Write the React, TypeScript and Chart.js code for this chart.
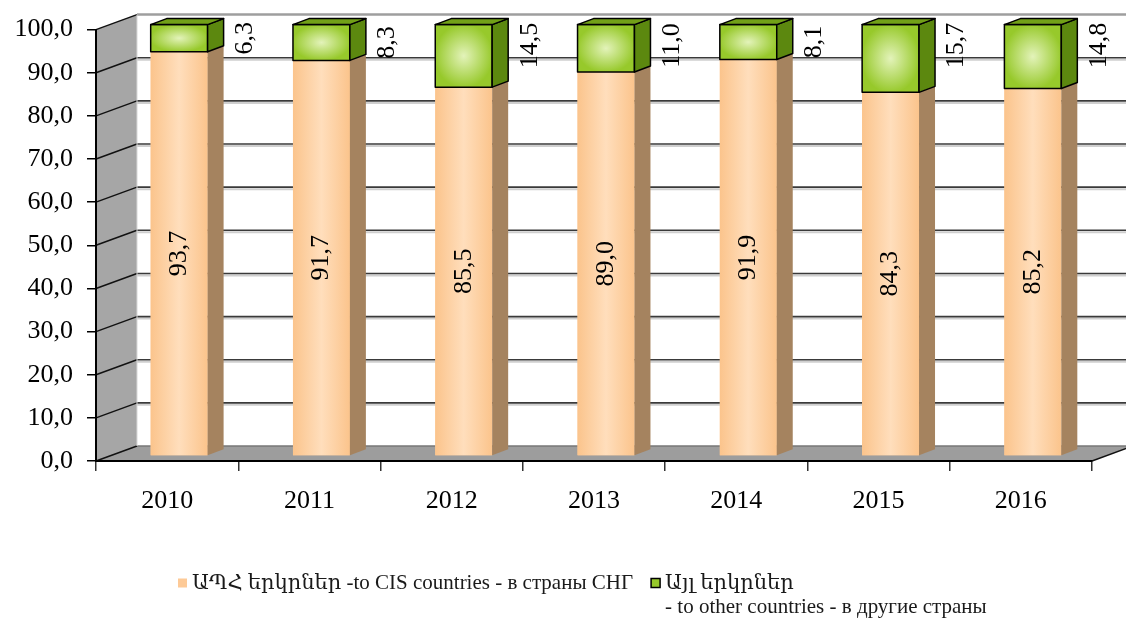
import React, { useEffect, useRef } from 'react';
import { Chart, registerables } from 'chart.js';

Chart.register(...registerables);

// ---- data ----
const categories = ['2010', '2011', '2012', '2013', '2014', '2015', '2016'];
const cisShare = [93.7, 91.7, 85.5, 89.0, 91.9, 84.3, 85.2];
const otherShare = [6.3, 8.3, 14.5, 11.0, 8.1, 15.7, 14.8];
const yMin = 0;
const yMax = 100;
const yStep = 10;
const cisLegend = ['ԱՊՀ երկրներ -to CIS countries - в страны СНГ'];
const otherLegend = ['Այլ երկրներ', '- to other countries - в другие страны'];

// ---- style ----
const SERIF = "'Liberation Serif', 'Times New Roman', 'DejaVu Serif', serif";
const fmt = (v: number) => v.toFixed(1).replace('.', ',');

const WALL_DX = 41;
const WALL_DY = -15;
const BAR_SHIFT_X = 12;
const BAR_SHIFT_Y = -5;
const BAR_DX = 16;
const BAR_DY = -6;

const COLORS = {
  cis: '#FDCA97',
  cisEdge: '#FBC48C',
  cisLight: '#FFDEBC',
  cisSide: '#A5835F',
  other: '#97C92B',
  otherLight: '#E3F3BA',
  otherSide: '#5C880F',
  otherTop: '#72A018',
  wall: '#A6A6A6',
  floor: '#9D9D9D',
};

function line(ctx: CanvasRenderingContext2D, x1: number, y1: number, x2: number, y2: number) {
  ctx.beginPath();
  ctx.moveTo(x1, y1);
  ctx.lineTo(x2, y2);
  ctx.stroke();
}

const scenePlugin = {
  id: 'scene3d',
  beforeDraw(chart: any) {
    const { ctx, chartArea: a, scales } = chart;
    const y = scales.y;
    const y0 = y.getPixelForValue(yMin);
    const yT = y.getPixelForValue(yMax);
    const L = a.left;
    const R = a.right;
    ctx.save();
    // left side wall
    ctx.fillStyle = COLORS.wall;
    ctx.beginPath();
    ctx.moveTo(L, yT);
    ctx.lineTo(L + WALL_DX, yT + WALL_DY);
    ctx.lineTo(L + WALL_DX, y0 + WALL_DY);
    ctx.lineTo(L, y0);
    ctx.closePath();
    ctx.fill();
    // floor
    ctx.fillStyle = COLORS.floor;
    ctx.beginPath();
    ctx.moveTo(L, y0);
    ctx.lineTo(L + WALL_DX, y0 + WALL_DY);
    ctx.lineTo(R + WALL_DX, y0 + WALL_DY);
    ctx.lineTo(R, y0);
    ctx.closePath();
    ctx.fill();
    // back wall gridlines + side wall diagonals
    y.ticks.forEach((t: any) => {
      const pf = y.getPixelForValue(t.value);
      const pb = pf + WALL_DY;
      const isTop = t.value === yMax;
      const isBottom = t.value === yMin;
      if (!isTop && !isBottom) {
        ctx.strokeStyle = '#CFCFCF';
        ctx.lineWidth = 2;
        line(ctx, L + WALL_DX, pb + 2, R + WALL_DX, pb + 2);
      }
      ctx.strokeStyle = isTop ? '#9E9E9E' : isBottom ? '#777777' : '#3A3A3A';
      ctx.lineWidth = isTop ? 2.5 : 1.6;
      line(ctx, L + WALL_DX, pb, R + WALL_DX, pb);
      ctx.strokeStyle = '#111111';
      ctx.lineWidth = 1.5;
      line(ctx, L, pf, L + WALL_DX, pb);
    });
    // back wall left edge
    ctx.strokeStyle = '#D8D8D8';
    ctx.lineWidth = 1;
    line(ctx, L + WALL_DX, yT + WALL_DY, L + WALL_DX, y0 + WALL_DY);
    // floor right edge
    ctx.strokeStyle = '#111111';
    ctx.lineWidth = 1.5;
    line(ctx, R, y0, R + WALL_DX, y0 + WALL_DY);
    ctx.restore();
  },
  beforeDatasetsDraw(chart: any) {
    chart.ctx.save();
    chart.ctx.translate(BAR_SHIFT_X, BAR_SHIFT_Y);
  },
  afterDatasetsDraw(chart: any) {
    const { ctx } = chart;
    const cisMeta = chart.getDatasetMeta(0);
    const otherMeta = chart.getDatasetMeta(1);

    // CIS bars: gradient front + side face
    cisMeta.data.forEach((el: any) => {
      const p = el.getProps(['x', 'y', 'base', 'width'], true);
      const x0 = p.x - p.width / 2;
      const x1 = p.x + p.width / 2;
      const g = ctx.createLinearGradient(x0, 0, x1, 0);
      g.addColorStop(0, COLORS.cisEdge);
      g.addColorStop(0.5, COLORS.cisLight);
      g.addColorStop(1, COLORS.cisEdge);
      ctx.fillStyle = g;
      ctx.fillRect(x0, p.y, p.width, p.base - p.y);
      ctx.fillStyle = COLORS.cisSide;
      ctx.beginPath();
      ctx.moveTo(x1, p.y);
      ctx.lineTo(x1 + BAR_DX, p.y + BAR_DY);
      ctx.lineTo(x1 + BAR_DX, p.base + BAR_DY);
      ctx.lineTo(x1, p.base);
      ctx.closePath();
      ctx.fill();
    });

    // Other bars: gradient front, side, top (outlined)
    otherMeta.data.forEach((el: any) => {
      const p = el.getProps(['x', 'y', 'base', 'width'], true);
      const x0 = p.x - p.width / 2;
      const x1 = p.x + p.width / 2;
      const h = p.base - p.y;
      ctx.save();
      ctx.beginPath();
      ctx.rect(x0, p.y, p.width, h);
      ctx.clip();
      ctx.translate(p.x, p.y + h / 2);
      ctx.scale(p.width / 2, h / 2);
      const g = ctx.createRadialGradient(0, 0, 0, 0, 0, 1.2);
      g.addColorStop(0, COLORS.otherLight);
      g.addColorStop(0.85, COLORS.other);
      g.addColorStop(1, COLORS.other);
      ctx.fillStyle = g;
      ctx.fillRect(-1.5, -1.5, 3, 3);
      ctx.restore();

      ctx.strokeStyle = '#000000';
      ctx.lineWidth = 1.5;
      ctx.lineJoin = 'round';
      ctx.strokeRect(x0, p.y, p.width, h);

      ctx.fillStyle = COLORS.otherSide;
      ctx.beginPath();
      ctx.moveTo(x1, p.y);
      ctx.lineTo(x1 + BAR_DX, p.y + BAR_DY);
      ctx.lineTo(x1 + BAR_DX, p.base + BAR_DY);
      ctx.lineTo(x1, p.base);
      ctx.closePath();
      ctx.fill();
      ctx.stroke();

      ctx.fillStyle = COLORS.otherTop;
      ctx.beginPath();
      ctx.moveTo(x0, p.y);
      ctx.lineTo(x0 + BAR_DX, p.y + BAR_DY);
      ctx.lineTo(x1 + BAR_DX, p.y + BAR_DY);
      ctx.lineTo(x1, p.y);
      ctx.closePath();
      ctx.fill();
      ctx.stroke();
    });

    // value labels (rotated)
    ctx.fillStyle = '#000000';
    ctx.font = `26px ${SERIF}`;
    ctx.textAlign = 'center';
    ctx.textBaseline = 'middle';
    cisMeta.data.forEach((el: any, i: number) => {
      const p = el.getProps(['x', 'y', 'base'], true);
      ctx.save();
      ctx.translate(p.x, (p.y + p.base) / 2);
      ctx.rotate(-Math.PI / 2);
      ctx.fillText(fmt(cisShare[i]), 0, 0);
      ctx.restore();
    });
    otherMeta.data.forEach((el: any, i: number) => {
      const p = el.getProps(['x', 'y', 'base'], true);
      const cy = Math.min((p.y + p.base) / 2, p.y + 21);
      ctx.save();
      ctx.translate(p.x + 66, cy);
      ctx.rotate(-Math.PI / 2);
      ctx.fillText(fmt(otherShare[i]), 0, 0);
      ctx.restore();
    });

    ctx.restore();
  },
  afterDraw(chart: any) {
    const { ctx, chartArea: a } = chart;
    ctx.save();
    ctx.font = `21px ${SERIF}`;
    ctx.textBaseline = 'middle';
    ctx.textAlign = 'left';
    const box = 9;
    const gap = 5;
    const itemGap = 18;
    const lh = 24;
    const w1 = Math.max(...cisLegend.map((s) => ctx.measureText(s).width));
    let x = a.left + 82;
    const ly = a.bottom + 122;
    // item 1
    ctx.fillStyle = COLORS.cis;
    ctx.fillRect(x, ly - box / 2, box, box);
    ctx.fillStyle = '#1a1a1a';
    cisLegend.forEach((s, k) => ctx.fillText(s, x + box + gap, ly + k * lh));
    x += box + gap + w1 + itemGap;
    // item 2
    ctx.fillStyle = COLORS.other;
    ctx.fillRect(x, ly - box / 2, box, box);
    ctx.strokeStyle = '#000000';
    ctx.lineWidth = 1.5;
    ctx.strokeRect(x, ly - box / 2, box, box);
    ctx.fillStyle = '#1a1a1a';
    otherLegend.forEach((s, k) => ctx.fillText(s, x + box + gap, ly + k * lh));
    ctx.restore();
  },
};

export default function App() {
  const canvasRef = useRef<HTMLCanvasElement | null>(null);

  useEffect(() => {
    if (!canvasRef.current) return;
    const chart = new Chart(canvasRef.current, {
      type: 'bar',
      data: {
        labels: categories,
        datasets: [
          {
            label: cisLegend.join(' '),
            data: cisShare,
            backgroundColor: COLORS.cis,
            borderWidth: 0,
            barPercentage: 0.4,
            categoryPercentage: 1,
          },
          {
            label: otherLegend.join(' '),
            data: otherShare,
            backgroundColor: COLORS.other,
            borderColor: '#000000',
            borderWidth: 1.5,
            borderSkipped: false,
            barPercentage: 0.4,
            categoryPercentage: 1,
          },
        ],
      },
      options: {
        animation: false,
        responsive: true,
        maintainAspectRatio: false,
        layout: { padding: { left: 0, right: 34, top: 27, bottom: 0 } },
        plugins: {
          legend: { display: false },
          tooltip: { enabled: false },
          title: { display: false },
        },
        scales: {
          x: {
            stacked: true,
            grid: {
              offset: true,
              drawOnChartArea: false,
              drawTicks: true,
              tickLength: 10,
              color: '#333333',
              lineWidth: 1.5,
            },
            border: { display: true, color: '#000000', width: 2 },
            ticks: {
              color: '#000000',
              font: { family: SERIF, size: 26 },
              padding: 15,
              maxRotation: 0,
              autoSkip: false,
            },
            afterFit: (scale: any) => {
              scale.height = 159;
            },
          },
          y: {
            stacked: true,
            min: yMin,
            max: yMax,
            grid: {
              drawOnChartArea: false,
              drawTicks: true,
              tickLength: 9,
              color: '#000000',
              lineWidth: 1.5,
            },
            border: { display: true, color: '#000000', width: 2 },
            ticks: {
              stepSize: yStep,
              color: '#000000',
              font: { family: SERIF, size: 26 },
              padding: 14,
              callback: (v: any) => fmt(Number(v)),
            },
            afterFit: (scale: any) => {
              scale.width = 96;
            },
          },
        },
      },
      plugins: [scenePlugin],
    });
    return () => chart.destroy();
  }, []);

  return (
    <div style={{ position: 'fixed', left: 0, top: 0, width: 1126, height: 620, background: '#ffffff' }}>
      <canvas ref={canvasRef} />
    </div>
  );
}
